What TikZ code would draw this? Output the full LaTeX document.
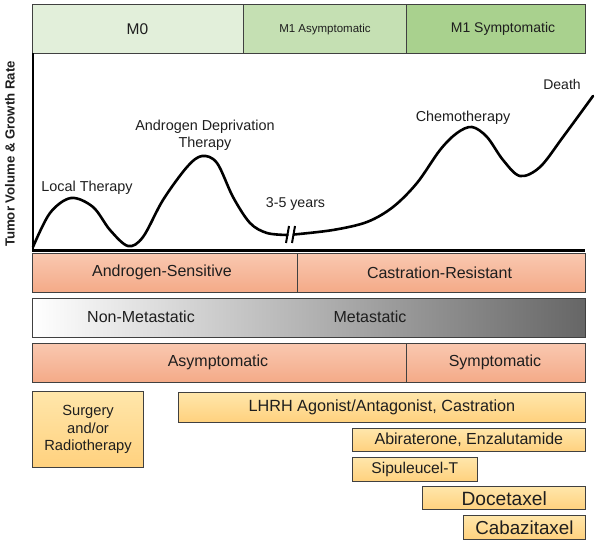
\documentclass[tikz,border=0pt]{standalone}
\usepackage{fontspec}
\setmainfont{Liberation Sans}
\definecolor{bord}{HTML}{404040}
\definecolor{txt}{HTML}{1E1E1E}
\definecolor{gA}{HTML}{E2EFDA}
\definecolor{gB}{HTML}{C5E0B3}
\definecolor{gC}{HTML}{A9D18E}
\definecolor{salA}{HTML}{F9C8B0}
\definecolor{salB}{HTML}{F4AA88}
\definecolor{yelA}{HTML}{FFE6AA}
\definecolor{yelB}{HTML}{FFD17E}
\begin{document}
\begin{tikzpicture}[x=1bp,y=1bp,
  bx/.style={draw=bord, line width=1.1bp, inner sep=0pt, anchor=north west},
  topbox/.style={bx, fill=#1},
  salbox/.style={bx, top color=salA, bottom color=salB},
  yelbox/.style={bx, top color=yelA, bottom color=yelB, text=txt},
  tf/.style={font=\fontsize{#1bp}{#1bp}\selectfont, text=txt, inner sep=0pt},
  curve/.style={line width=2.6bp, line cap=round, line join=round, black}
]
\useasboundingbox (0,0) rectangle (600,-543);

% top stage bar
\node[topbox=gA, minimum width=211bp, minimum height=49.3bp] (m0box) at (32.3,-4) {};
\node[topbox=gB, minimum width=162.7bp, minimum height=49.3bp] (m1abox) at (243.3,-4) {};
\node[topbox=gC, minimum width=178.5bp, minimum height=49.3bp] (m1sbox) at (406,-4) {};
\node[tf=15.5] (m0) at (137.5,-29.3) {M0};
\node[tf=11.5] (m1a) at (325,-29.3) {M1 Asymptomatic};
\node[tf=14] (m1s) at (503,-29.3) {M1 Symptomatic};

% rows
\node[salbox, minimum width=264.7bp, minimum height=39bp] (asens) at (32,-252.7) {};
\node[salbox, minimum width=288bp, minimum height=39bp] (cres) at (296.7,-252.7) {};
\node[tf=16] (asenst) at (162,-272.3) {Androgen-Sensitive};
\node[tf=16] (crest) at (439.5,-272.3) {Castration-Resistant};

\node[bx, minimum width=552.7bp, minimum height=38.4bp, left color=white, middle color=black!21, right color=black!60] (metbar) at (32,-298.3) {};
\node[tf=16] (nmet) at (141,-317) {Non-Metastatic};
\node[tf=16] (met) at (370,-317) {Metastatic};

\node[salbox, minimum width=374bp, minimum height=39bp] (asym) at (32,-342.7) {};
\node[salbox, minimum width=178.7bp, minimum height=39bp] (sym) at (406,-342.7) {};
\node[tf=16] (asymt) at (218,-362) {Asymptomatic};
\node[tf=16] (symt) at (495,-362) {Symptomatic};

% treatment boxes
\node[yelbox, minimum width=111.6bp, minimum height=76bp, align=center, font=\fontsize{14.7bp}{17.5bp}\selectfont] (surg) at (31.7,-391) {Surgery\\and/or\\Radiotherapy};
\node[yelbox, minimum width=407.3bp, minimum height=29.4bp, font=\fontsize{16.2bp}{18bp}\selectfont] (lhrh) at (177.7,-392.3) {LHRH Agonist/Antagonist, Castration};
\node[yelbox, minimum width=233.3bp, minimum height=22.7bp, font=\fontsize{16bp}{18bp}\selectfont] (abi) at (351.7,-428.3) {Abiraterone, Enzalutamide};
\node[yelbox, minimum width=125bp, minimum height=23.4bp, font=\fontsize{15.6bp}{18bp}\selectfont] (sip) at (351.7,-457.3) {Sipuleucel-T};
\node[yelbox, minimum width=162.7bp, minimum height=23.3bp, font=\fontsize{19.2bp}{20bp}\selectfont] (doc) at (422.3,-486) {Docetaxel};
\node[yelbox, minimum width=122.3bp, minimum height=24bp, font=\fontsize{18.8bp}{20bp}\selectfont] (cab) at (462.7,-515) {Cabazitaxel};

% axes
\coordinate (ytop) at (33,-53.5);
\coordinate (orig) at (33,-250.7);
\coordinate (xend) at (585,-250.7);
\draw[line width=2.4bp] (ytop) -- (orig);
\draw[line width=3.4bp] ([xshift=-1.2bp]orig) -- (xend);
\node[rotate=90, font=\bfseries\fontsize{13.2bp}{15bp}\selectfont, text=txt, inner sep=0pt] (ylab) at (10,-154) {Tumor Volume \& Growth Rate};

% curve
\draw[curve] plot[smooth, tension=0.55] coordinates {(33,-247) (50,-213) (71,-198) (93,-207) (110,-230) (128,-246) (143,-237) (163,-200) (187,-167) (202,-156) (217,-163) (233,-197) (250,-223) (267,-233) (287.5,-235)};
\draw[curve] plot[smooth, tension=0.55] coordinates {(294,-234.5) (333,-230) (367,-222) (393,-207) (417,-183) (440,-150) (457,-133) (472,-127) (487,-137) (503,-160) (520,-176) (540,-167) (563,-137) (593,-96)};
\draw[line width=2bp] (286,-243) -- (289,-226);
\draw[line width=2bp] (292,-243) -- (295,-226);

% curve labels
\node[tf=14.4] (lt) at (87,-187.7) {Local Therapy};
\node[tf=14.4, align=center, font=\fontsize{14.4bp}{16.6bp}\selectfont] (adt) at (205,-135) {Androgen Deprivation\\Therapy};
\node[tf=14.2] (yrs) at (295.5,-204) {3-5 years};
\node[tf=14.4] (chemo) at (463,-117.7) {Chemotherapy};
\node[tf=14] (death) at (562,-84.3) {Death};
\end{tikzpicture}
\end{document}
